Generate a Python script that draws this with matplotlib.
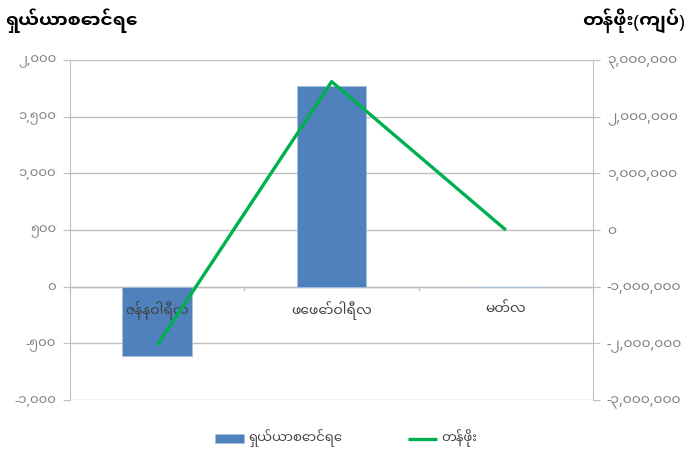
import numpy as np
import matplotlib
matplotlib.use("Agg")
import matplotlib.pyplot as plt
import matplotlib.ticker as ticker

months = ["ဇန်နဝါရီလ", "ဖေဖော်ဝါရီလ", "မတ်လ"]
shares = [-615, 1770, 0]               # ရှယ်ယာစောင်ရေ (left axis)
values = [-2030000, 2620000, 0]        # တန်ဖိုး (right axis)

left_ticks = [-1000, -500, 0, 500, 1000, 1500, 2000]
right_ticks = [-3000000, -2000000, -1000000, 0, 1000000, 2000000, 3000000]

plt.rcParams["font.family"] = ["Noto Sans Myanmar UI", "Noto Sans Myanmar",
                               "Myanmar Sans Pro", "DejaVu Sans"]

MM_DIGITS = str.maketrans("0123456789", "၀၁၂၃၄၅၆၇၈၉")

def mm_fmt(v, pos=None):
    return f"{int(v):,}".translate(MM_DIGITS)

BAR = "#4F81BD"
LINE = "#00B050"
GRID = "#BFBFBF"
TXT = "#7F7F7F"

fig = plt.figure(figsize=(6.88, 4.62), dpi=100)
ax = fig.add_axes([0.102, 0.134, 0.76, 0.736])
ax2 = ax.twinx()

x = np.arange(len(months))
ax.bar(x, shares, width=0.40, color=BAR, edgecolor="#A7C0DE", lw=0.6,
       label="ရှယ်ယာစောင်ရေ", zorder=2)
ax2.plot(x, values, color=LINE, lw=2.4, label="တန်ဖိုး",
         solid_capstyle="butt", zorder=3)

ax.set_xlim(-0.5, 2.5)
ax.set_ylim(-1000, 2000)
ax2.set_ylim(-3000000, 3000000)
ax.set_yticks(left_ticks)
ax2.set_yticks(right_ticks)
ax.yaxis.set_major_formatter(ticker.FuncFormatter(mm_fmt))
ax2.yaxis.set_major_formatter(ticker.FuncFormatter(mm_fmt))

ax.yaxis.grid(True, color=GRID, lw=1.0, zorder=0)
ax.set_axisbelow(True)

for a in (ax, ax2):
    for s in a.spines.values():
        s.set_visible(False)
ax.spines["left"].set_visible(True)
ax.spines["left"].set_color(GRID)
ax2.spines["right"].set_visible(True)
ax2.spines["right"].set_color(GRID)

ax.tick_params(axis="y", length=5, color=GRID, labelcolor=TXT, labelsize=9.5, pad=5)
ax2.tick_params(axis="y", length=5, color=GRID, labelcolor=TXT, labelsize=10, pad=5)

# category axis sits on the zero line
ax.axhline(0, color=GRID, lw=1.0, zorder=1)
ax.set_xticks([])
for b in [0.5, 1.5]:
    ax.plot([b, b], [0, -25], color=GRID, lw=1.0, zorder=1)
for xi, m in zip(x, months):
    ax.text(xi, -210, m, ha="center", va="center", fontsize=10, color="#404040", zorder=4)

fig.text(0.008, 0.955, "ရှယ်ယာစောင်ရေ", fontsize=13.5, fontweight="bold",
         ha="left", va="center")
fig.text(0.996, 0.955, "တန်ဖိုး(ကျပ်)", fontsize=13.5, fontweight="bold",
         ha="right", va="center")

h1, l1 = ax.get_legend_handles_labels()
h2, l2 = ax2.get_legend_handles_labels()
fig.legend(h1 + h2, l1 + l2, loc="center", bbox_to_anchor=(0.503, 0.052),
           ncol=2, frameon=False, fontsize=9.5, handlelength=2.2, handleheight=0.6,
           columnspacing=5, labelcolor="#404040", handletextpad=0.3)

fig.savefig("out.png", dpi=100)
